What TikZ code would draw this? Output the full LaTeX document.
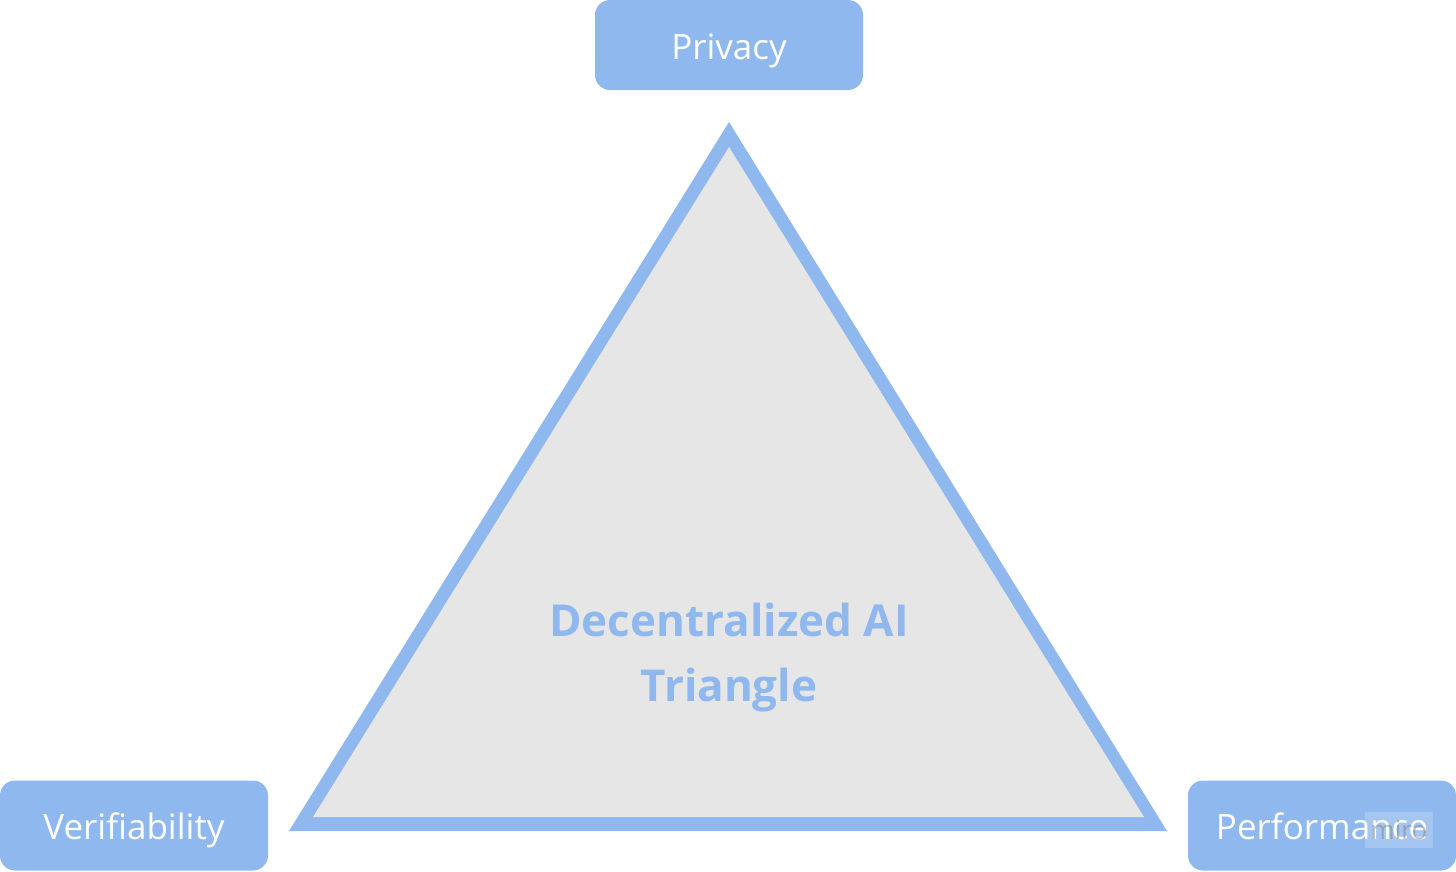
\documentclass[tikz,border=0pt]{standalone}
\usepackage{fontspec}
\setmainfont{Open Sans}
\definecolor{triblue}{HTML}{8FB8EE}
\definecolor{trigrey}{HTML}{E6E6E6}
\begin{document}
\begin{tikzpicture}[x=1pt,y=-1pt,every path/.style={join=round,cap=round},
    corner/.style={rectangle,rounded corners=15pt,fill=triblue,text=white,minimum width=268pt,minimum height=90pt,inner sep=0pt,text height=28pt,text depth=0pt,font=\fontsize{35}{42}\selectfont},
    title/.style={text=triblue,align=center,font=\fontsize{44}{65}\selectfont\bfseries}]
    \useasboundingbox (0,0) rectangle (1456,871);
    \fill[triblue] (729,122) -- (1167,831) -- (289,831) -- cycle;
    \fill[trigrey] (729,147) -- (1144,817) -- (313,817) -- cycle;
    \node[title] (center) at (729,657.5) {Decentralized AI\\Triangle};
    \node[corner] (privacy) at (729,45) {Privacy};
    \node[corner] (verif) at (134,825.5) {Verifiability};
    \node[corner] (perf) at (1322,825.5) {Performance};
    % watermark
    \node[fill=white,fill opacity=0.2,text opacity=0.5,text=gray,minimum width=68pt,minimum height=36pt,inner sep=0pt,font=\fontsize{26}{26}\selectfont] (mark) at (1399,830) {\raisebox{-6pt}{miro}};
  \end{tikzpicture}
\end{document}
